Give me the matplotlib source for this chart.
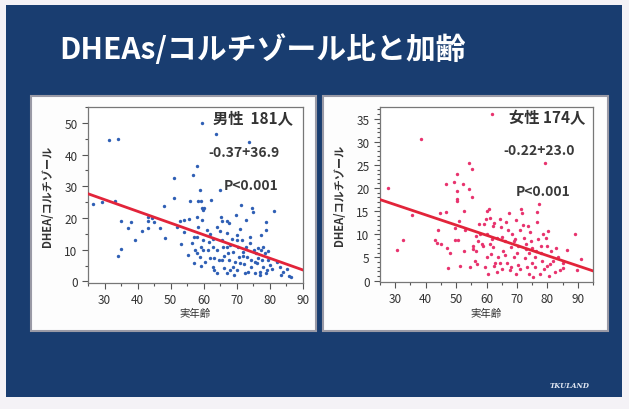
import numpy as np
import matplotlib
matplotlib.use("Agg")
import matplotlib.pyplot as plt
from matplotlib.patches import Rectangle
from matplotlib.ticker import MultipleLocator

plt.rcParams['font.family'] = ['Noto Sans CJK JP', 'DejaVu Sans']

title = 'DHEAs/コルチゾール比と加齢'
ylabel = 'DHEA/コルチゾール'
xlabel = '実年齢'

# men: age, DHEAs/cortisol ratio
male_age = [26.6, 29.3, 31.2, 34.0, 33.1, 35.0, 34.1, 35.1, 37.1, 38.1, 39.3, 41.2, 43.0, 43.1, 43.0,
            44.2, 45.1, 46.9, 48.1, 48.2, 50.9, 51.1, 52.0, 52.8, 53.0, 53.9, 55.2, 55.6, 55.9, 56.7,
            56.9, 57.1, 57.9, 57.9, 58.2, 58.4, 58.9, 59.1, 59.4, 59.6, 59.8, 59.5, 59.9, 59.1, 58.9,
            59.1, 57.9, 57.4, 59.9, 60.9, 61.2, 61.9, 62.2, 62.7, 62.9, 62.7, 63.2, 63.9, 63.6, 63.9,
            64.7, 64.9, 65.1, 65.4, 65.4, 65.7, 65.6, 66.2, 66.9, 66.9, 67.1, 67.4, 67.7, 67.9, 68.4,
            68.7, 68.9, 69.1, 69.6, 69.9, 70.4, 70.6, 70.9, 71.2, 71.6, 71.9, 72.2, 72.4, 72.7, 72.9,
            73.2, 73.6, 73.9, 74.2, 74.4, 74.7, 74.9, 75.2, 75.4, 75.9, 76.2, 76.4, 76.9, 77.4, 77.6,
            77.9, 78.4, 78.7, 78.7, 79.1, 79.4, 79.9, 81.1, 83.0, 83.3, 85.2, 85.8, 77.4, 78.9,
            56.5, 58.0, 60.5, 61.5, 63.0, 64.0, 66.0, 67.0, 68.0, 69.5, 70.0, 71.0, 72.0, 73.5, 74.0,
            75.5, 76.5, 77.0, 78.0, 79.5, 80.5, 82.0, 84.0, 86.5, 62.0, 65.0, 67.5, 70.0, 54.0, 60.0]
male_ratio = [24.3, 25.0, 44.6, 44.9, 25.3, 19.2, 7.9, 10.3, 16.9, 18.6, 13.1, 15.9, 19.0, 20.4, 16.9,
              20.1, 18.6, 16.8, 23.7, 13.8, 32.6, 26.4, 17.3, 19.0, 11.7, 19.4, 8.2, 19.6, 25.3, 33.5,
              14.1, 5.8, 36.3, 20.4, 25.3, 17.3, 28.8, 25.3, 23.0, 19.4, 22.5, 49.9, 13.1, 11.0, 7.8,
              4.9, 14.1, 9.9, 9.9, 16.2, 9.9, 7.3, 25.6, 13.4, 11.0, 4.7, 3.7, 9.9, 46.5, 17.3,
              6.8, 28.8, 20.4, 19.1, 13.1, 11.0, 6.8, 4.2, 19.0, 15.2, 11.0, 8.9, 6.8, 3.7, 13.4,
              9.4, 4.7, 2.1, 21.1, 13.1, 11.0, 7.8, 5.8, 24.1, 13.1, 9.4, 5.4, 2.6, 19.4, 11.0,
              7.8, 44.1, 14.1, 6.8, 4.7, 23.0, 22.0, 9.9, 2.6, 8.9, 5.8, 10.5, 3.1, 9.9, 6.8,
              4.7, 9.1, 18.8, 16.2, 3.7, 6.8, 5.2, 22.2, 4.7, 2.1, 3.9, 1.8, 14.6, 2.6,
              12.0, 9.0, 6.0, 12.5, 7.5, 2.5, 8.0, 2.5, 11.5, 6.0, 3.5, 16.5, 8.0, 3.0, 12.0,
              6.0, 7.5, 2.0, 11.0, 9.5, 4.0, 6.0, 3.0, 1.5, 15.0, 16.0, 18.5, 14.5, 15.5, 23.0]

# women
female_age = [27.6, 30.6, 32.4, 35.5, 38.5, 61.9, 43.0, 43.7, 43.9, 44.8, 46.6, 46.7, 46.9, 47.5, 49.3,
              49.6, 49.8, 50.2, 50.4, 50.4, 50.4, 50.5, 51.1, 51.3, 52.4, 52.6, 52.7, 54.3, 55.1, 54.2,
              55.1, 55.4, 55.6, 56.2, 56.7, 57.3, 57.6, 58.4, 59.0, 59.2, 59.5, 59.8, 60.0, 60.3, 60.6,
              60.9, 61.1, 61.4, 61.7, 62.0, 62.2, 62.4, 62.7, 63.3, 63.8, 64.4, 64.9, 65.2, 65.4, 66.0,
              66.5, 66.8, 67.4, 67.6, 67.9, 68.5, 69.0, 69.6, 69.8, 70.2, 70.5, 70.9, 71.5, 71.7, 72.2,
              72.6, 73.1, 73.4, 73.9, 74.3, 74.5, 74.9, 75.4, 75.9, 76.3, 76.5, 76.7, 77.1, 77.6, 77.8,
              78.1, 78.5, 79.2, 79.6, 80.0, 80.3, 80.7, 81.1, 82.0, 82.6, 83.4, 84.3, 85.2, 86.3, 89.1,
              89.8, 91.1, 54.7, 56.4, 64.4, 69.1, 73.8,
              57.0, 58.0, 60.0, 61.0, 62.5, 63.5, 65.0, 66.0, 67.0, 68.0, 69.5, 70.0, 71.0, 72.0, 73.0,
              74.0, 75.0, 76.0, 77.0, 78.0, 79.0, 80.0, 81.0, 83.0, 85.0, 53.0, 48.0, 45.0]
female_ratio = [19.9, 6.7, 8.8, 14.2, 30.5, 36.0, 8.8, 8.2, 11.0, 14.6, 14.9, 20.9, 7.0, 2.7, 21.3,
                11.3, 8.8, 23.0, 19.3, 17.6, 17.1, 8.8, 12.9, 3.2, 20.8, 15.1, 6.5, 25.3, 24.2, 19.7,
                18.1, 7.5, 6.8, 4.3, 6.5, 8.6, 12.2, 7.9, 7.4, 12.3, 2.9, 13.3, 15.1, 10.0, 1.4,
                15.4, 13.6, 5.7, 9.0, 11.8, 7.2, 3.2, 3.9, 9.3, 5.0, 13.3, 11.6, 2.5, 6.5, 8.6,
                12.6, 3.9, 14.5, 2.2, 7.2, 10.0, 5.0, 13.1, 1.4, 7.5, 3.4, 10.9, 15.4, 14.7, 9.3,
                4.9, 6.8, 2.9, 5.9, 10.5, 8.6, 3.9, 0.7, 5.0, 6.5, 14.9, 12.6, 16.5, 1.4, 7.5,
                4.3, 10.0, 25.3, 9.3, 3.2, 10.8, 1.1, 6.5, 4.3, 1.8, 5.0, 2.2, 3.9, 6.7, 10.0,
                2.2, 4.7, 2.9, 9.7, 3.9, 8.6, 11.8,
                3.5, 10.0, 5.0, 8.0, 12.5, 1.9, 9.5, 5.5, 11.0, 3.0, 9.0, 6.0, 2.5, 12.0, 8.0,
                1.5, 7.0, 3.0, 9.0, 6.0, 2.5, 7.5, 3.5, 7.0, 2.7, 11.0, 6.0, 8.0]

# regression lines (slope, intercept) as printed on the slide
male_fit = (-0.37, 36.9)
female_fit = (-0.22, 23.0)

W, H = 629, 410
fig = plt.figure(figsize=(W / 100, H / 100), dpi=100)
fig.patch.set_facecolor('#f4f2f6')


def px(x0, y0, x1, y1):
    # pixel box -> figure fraction [left, bottom, width, height]
    return [x0 / W, 1 - y1 / H, (x1 - x0) / W, (y1 - y0) / H]


def add_rect(box, **kw):
    l, b, w, h = px(*box)
    fig.patches.append(Rectangle((l, b), w, h, transform=fig.transFigure, **kw))


# slide background
add_rect((6, 6, 622, 398), facecolor='#193d70', edgecolor='none', zorder=-3)
fig.text(263 / W, 1 - 50 / H, title, ha='center', va='center', color='white',
         fontsize=21.5, fontweight='bold')
fig.text(570 / W, 1 - 386 / H, 'TKULAND', ha='center', va='center', color='#dfe6f2',
         fontsize=5, fontstyle='italic', fontweight='bold', family='DejaVu Serif')

# white panels
add_rect((31, 97, 316, 332), facecolor='#fdfdfd', edgecolor='#9a9aa6', linewidth=1.5, zorder=-2)
add_rect((323, 97, 608, 332), facecolor='#fdfdfd', edgecolor='#9a9aa6', linewidth=1.5, zorder=-2)

panels = [
    dict(box=(88, 108, 303, 284), age=male_age, ratio=male_ratio, fit=male_fit,
         color='#2f5fb5', xlim=(25, 90), ylim=(-0.5, 55), ymaj=10, ymin=5,
         label='男性  181人', eq='-0.37+36.9', lab_xy=(0.955, 0.94), eq_xy=(0.89, 0.745),
         p_xy=(0.885, 0.555), ylab_x=48),
    dict(box=(380, 108, 593, 283), age=female_age, ratio=female_ratio, fit=female_fit,
         color='#e8336e', xlim=(25, 95), ylim=(-0.3, 37.5), ymaj=5, ymin=1,
         label='女性 174人', eq='-0.22+23.0', lab_xy=(0.965, 0.94), eq_xy=(0.915, 0.755),
         p_xy=(0.895, 0.52), ylab_x=340),
]

for p in panels:
    ax = fig.add_axes(px(*p['box']))
    ax.set_zorder(2)
    ax.set_facecolor('white')
    ax.scatter(p['age'], p['ratio'], s=6, marker='o', color=p['color'], linewidths=0, zorder=3)
    xs = np.array(p['xlim'], dtype=float)
    ax.plot(xs, p['fit'][0] * xs + p['fit'][1], color='#e2243a', lw=2, zorder=4)
    ax.set_xlim(*p['xlim'])
    ax.set_ylim(*p['ylim'])
    ax.xaxis.set_major_locator(MultipleLocator(10))
    ax.xaxis.set_minor_locator(MultipleLocator(5))
    ax.yaxis.set_major_locator(MultipleLocator(p['ymaj']))
    ax.yaxis.set_minor_locator(MultipleLocator(p['ymin']))
    ax.tick_params(which='both', direction='out', colors='#555555', labelcolor='#333333',
                   labelsize=8.5, width=0.8)
    ax.tick_params(which='major', length=4)
    ax.tick_params(which='minor', length=2)
    ax.set_xticks([t for t in range(30, 100, 10) if t <= p['xlim'][1]])
    for s in ax.spines.values():
        s.set_color('#777777')
        s.set_linewidth(0.9)
    ax.text(*p['lab_xy'], p['label'], transform=ax.transAxes, ha='right', va='center',
            fontsize=11, fontweight='bold', color='#333333')
    ax.text(*p['eq_xy'], p['eq'], transform=ax.transAxes, ha='right', va='center',
            fontsize=10, fontweight='bold', color='#3a3a3a')
    ax.text(*p['p_xy'], 'P<0.001', transform=ax.transAxes, ha='right', va='center',
            fontsize=10, fontweight='bold', color='#3a3a3a')
    l, b, w, h = px(*p['box'])
    fig.text(p['ylab_x'] / W, b + h / 2, ylabel, rotation=90, ha='center', va='center',
             fontsize=8, fontweight='bold', color='#333333')
    fig.text(l + w / 2, 1 - 314 / H, xlabel, ha='center', va='center',
             fontsize=7.5, color='#333333')

fig.savefig('out.png', dpi=100, facecolor=fig.get_facecolor())
